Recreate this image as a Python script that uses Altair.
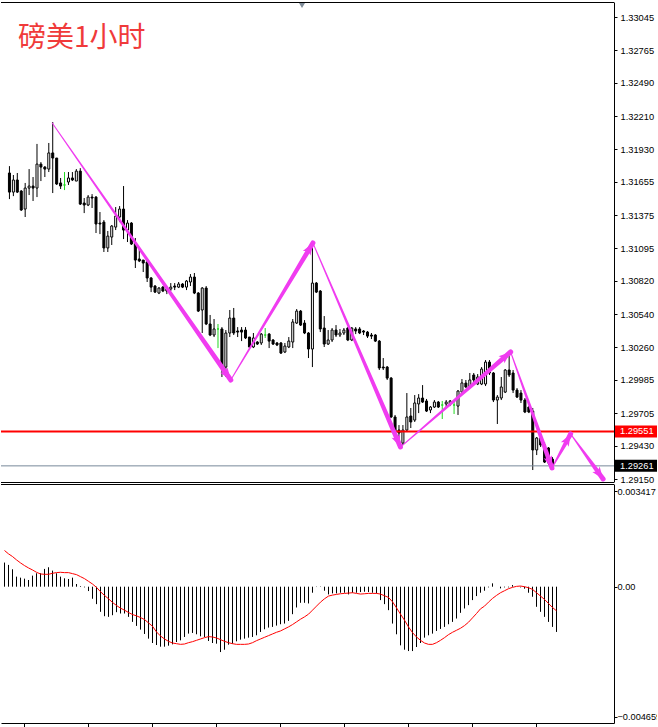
import math
import altair as alt
import pandas as pd

# ---------------- data ----------------
opens = [1.31730, 1.31569, 1.31671, 1.31578, 1.31426, 1.31603, 1.31620, 1.31603, 1.31805, 1.31780,
         1.31763, 1.31899, 1.31856, 1.31646, 1.31629, 1.31654, 1.31688, 1.31662, 1.31746, 1.31477,
         1.31460, 1.31527, 1.31527, 1.31308, 1.31316, 1.31098, 1.31190, 1.31274, 1.31359, 1.31426,
         1.31249, 1.31308, 1.31140, 1.31005, 1.30996, 1.30979, 1.30845, 1.30777, 1.30718, 1.30768,
         1.30752, 1.30752, 1.30777, 1.30768, 1.30794, 1.30768, 1.30811, 1.30853, 1.30718, 1.30575,
         1.30760, 1.30457, 1.30364, 1.30415, 1.30415, 1.30094, 1.30381, 1.30507, 1.30398, 1.30406,
         1.30406, 1.30347, 1.30263, 1.30305, 1.30297, 1.30364, 1.30372, 1.30322, 1.30297, 1.30297,
         1.30221, 1.30263, 1.30305, 1.30465, 1.30566, 1.30465, 1.30381, 1.30246, 1.30802, 1.30735,
         1.30423, 1.30288, 1.30322, 1.30406, 1.30364, 1.30381, 1.30423, 1.30322, 1.30415, 1.30415,
         1.30398, 1.30389, 1.30364, 1.30364, 1.30313, 1.30094, 1.30094, 1.30001, 1.29673, 1.29563,
         1.29453, 1.29563, 1.29681, 1.29647, 1.29783, 1.29833, 1.29808, 1.29732, 1.29757, 1.29799,
         1.29774, 1.29783, 1.29783, 1.29774, 1.29765, 1.29883, 1.29959, 1.29926, 1.30027, 1.29951,
         1.29951, 1.29951, 1.30136, 1.30044, 1.29816, 1.29833, 1.29883, 1.30069, 1.30044, 1.29900,
         1.29875, 1.29816, 1.29757, 1.29723, 1.29395, 1.29496, 1.29437, 1.29412, 1.29318]
highs = [1.31788, 1.31713, 1.31730, 1.31586, 1.31646, 1.31763, 1.31696, 1.31975, 1.31822, 1.31788,
         1.31983, 1.32160, 1.31856, 1.31688, 1.31738, 1.31738, 1.31738, 1.31763, 1.31771, 1.31519,
         1.31544, 1.31552, 1.31535, 1.31401, 1.31333, 1.31241, 1.31291, 1.31443, 1.31451, 1.31620,
         1.31333, 1.31316, 1.31182, 1.31098, 1.30996, 1.31005, 1.30853, 1.30785, 1.30768, 1.30777,
         1.30760, 1.30802, 1.30802, 1.30811, 1.30802, 1.30828, 1.30878, 1.30887, 1.30726, 1.30768,
         1.30777, 1.30533, 1.30499, 1.30457, 1.30431, 1.30406, 1.30575, 1.30592, 1.30431, 1.30431,
         1.30431, 1.30347, 1.30381, 1.30313, 1.30381, 1.30423, 1.30381, 1.30330, 1.30305, 1.30305,
         1.30297, 1.30347, 1.30499, 1.30583, 1.30575, 1.30490, 1.30389, 1.31140, 1.30811, 1.30743,
         1.30524, 1.30406, 1.30423, 1.30448, 1.30415, 1.30423, 1.30431, 1.30431, 1.30431, 1.30431,
         1.30406, 1.30398, 1.30381, 1.30372, 1.30322, 1.30170, 1.30103, 1.30010, 1.29690, 1.29605,
         1.29605, 1.29875, 1.29749, 1.29858, 1.29866, 1.29942, 1.29825, 1.29765, 1.29816, 1.29808,
         1.29808, 1.29816, 1.29816, 1.29816, 1.29900, 1.29993, 1.29985, 1.30044, 1.30044, 1.30035,
         1.30094, 1.30153, 1.30153, 1.30052, 1.29858, 1.30010, 1.30077, 1.30212, 1.30069, 1.29917,
         1.29900, 1.29833, 1.29765, 1.29749, 1.29504, 1.29504, 1.29462, 1.29420, 1.29335]
lows = [1.31510, 1.31535, 1.31561, 1.31410, 1.31359, 1.31544, 1.31494, 1.31527, 1.31662, 1.31696,
        1.31738, 1.31561, 1.31629, 1.31595, 1.31586, 1.31629, 1.31662, 1.31662, 1.31460, 1.31392,
        1.31451, 1.31435, 1.31224, 1.31215, 1.31064, 1.31064, 1.31123, 1.31249, 1.31316, 1.31173,
        1.31148, 1.31123, 1.30929, 1.30979, 1.30895, 1.30811, 1.30726, 1.30718, 1.30709, 1.30726,
        1.30709, 1.30735, 1.30743, 1.30760, 1.30760, 1.30743, 1.30777, 1.30709, 1.30558, 1.30381,
        1.30448, 1.30355, 1.30347, 1.30254, 1.30010, 1.30010, 1.30347, 1.30364, 1.30347, 1.30313,
        1.30330, 1.30254, 1.30254, 1.30280, 1.30280, 1.30339, 1.30254, 1.30280, 1.30271, 1.30204,
        1.30212, 1.30254, 1.30254, 1.30457, 1.30440, 1.30372, 1.30170, 1.30094, 1.30718, 1.30389,
        1.30263, 1.30280, 1.30305, 1.30347, 1.30347, 1.30364, 1.30313, 1.30313, 1.30372, 1.30372,
        1.30364, 1.30339, 1.30330, 1.30305, 1.30069, 1.30069, 1.29985, 1.29664, 1.29479, 1.29420,
        1.29437, 1.29546, 1.29580, 1.29631, 1.29706, 1.29791, 1.29715, 1.29706, 1.29749, 1.29749,
        1.29656, 1.29757, 1.29765, 1.29698, 1.29690, 1.29875, 1.29917, 1.29917, 1.29951, 1.29942,
        1.29942, 1.29934, 1.30027, 1.29799, 1.29614, 1.29816, 1.29875, 1.30010, 1.29875, 1.29833,
        1.29791, 1.29706, 1.29706, 1.29226, 1.29352, 1.29420, 1.29285, 1.29268, 1.29251]
closes = [1.31569, 1.31671, 1.31569, 1.31418, 1.31603, 1.31620, 1.31603, 1.31805, 1.31780, 1.31763,
          1.31899, 1.31856, 1.31637, 1.31620, 1.31629, 1.31688, 1.31671, 1.31746, 1.31468, 1.31460,
          1.31527, 1.31519, 1.31300, 1.31300, 1.31098, 1.31198, 1.31283, 1.31367, 1.31426, 1.31249,
          1.31308, 1.31131, 1.30996, 1.30988, 1.30971, 1.30845, 1.30768, 1.30726, 1.30760, 1.30735,
          1.30735, 1.30768, 1.30768, 1.30794, 1.30768, 1.30819, 1.30853, 1.30718, 1.30566, 1.30760,
          1.30457, 1.30364, 1.30415, 1.30415, 1.30094, 1.30381, 1.30507, 1.30381, 1.30389, 1.30389,
          1.30339, 1.30263, 1.30339, 1.30288, 1.30372, 1.30364, 1.30313, 1.30288, 1.30280, 1.30212,
          1.30271, 1.30313, 1.30474, 1.30566, 1.30448, 1.30381, 1.30246, 1.30802, 1.30726, 1.30415,
          1.30288, 1.30322, 1.30406, 1.30364, 1.30381, 1.30406, 1.30322, 1.30423, 1.30398, 1.30381,
          1.30389, 1.30355, 1.30355, 1.30313, 1.30086, 1.30086, 1.30001, 1.29673, 1.29546, 1.29538,
          1.29563, 1.29673, 1.29631, 1.29791, 1.29833, 1.29799, 1.29723, 1.29757, 1.29799, 1.29757,
          1.29774, 1.29799, 1.29808, 1.29774, 1.29892, 1.29960, 1.29926, 1.29985, 1.29985, 1.30010,
          1.30077, 1.30136, 1.30044, 1.29816, 1.29841, 1.29926, 1.30069, 1.30027, 1.29900, 1.29841,
          1.29816, 1.29715, 1.29715, 1.29395, 1.29496, 1.29437, 1.29293, 1.29285, 1.29261]

macd_hist = [0.000864, 0.000780, 0.000624, 0.000360, 0.000324, 0.000288, 0.000240, 0.000396, 0.000480, 0.000480,
             0.000636, 0.000696, 0.000576, 0.000480, 0.000360, 0.000300, 0.000276, 0.000324, 0.000096, 0.000024,
             -0.000024, -0.000156, -0.000432, -0.000624, -0.000900, -0.001056, -0.001080, -0.001020, -0.000912, -0.000960,
             -0.000960, -0.001080, -0.001260, -0.001404, -0.001536, -0.001692, -0.001860, -0.002016, -0.002088, -0.002148,
             -0.002148, -0.002112, -0.002064, -0.001980, -0.001920, -0.001800, -0.001680, -0.001656, -0.001704, -0.001776,
             -0.001800, -0.001944, -0.002016, -0.002040, -0.002340, -0.002256, -0.002076, -0.002040, -0.001956, -0.001896,
             -0.001860, -0.001824, -0.001800, -0.001740, -0.001620, -0.001524, -0.001464, -0.001440, -0.001392, -0.001344,
             -0.001320, -0.001224, -0.000984, -0.000744, -0.000576, -0.000576, -0.000600, -0.000216, -0.000012, 0.000012,
             -0.000144, -0.000276, -0.000240, -0.000240, -0.000216, -0.000216, -0.000276, -0.000216, -0.000216, -0.000192,
             -0.000180, -0.000192, -0.000216, -0.000240, -0.000480, -0.000624, -0.000840, -0.001320, -0.001704, -0.002100,
             -0.002256, -0.002304, -0.002304, -0.002160, -0.002016, -0.001824, -0.001740, -0.001680, -0.001584, -0.001512,
             -0.001440, -0.001344, -0.001260, -0.001140, -0.000936, -0.000780, -0.000660, -0.000480, -0.000336, -0.000216,
             -0.000144, -0.000024, 0.000120, 0.0, -0.000060, -0.000024, -0.000024, 0.000060, 0.0, -0.000024,
             -0.000072, -0.000216, -0.000360, -0.000720, -0.000900, -0.001080, -0.001260, -0.001440, -0.001620]
macd_signal = [0.001296, 0.001176, 0.001080, 0.000960, 0.000852, 0.000756, 0.000672, 0.000600, 0.000516, 0.000456,
               0.000444, 0.000444, 0.000480, 0.000504, 0.000516, 0.000504, 0.000504, 0.000468, 0.000432, 0.000360,
               0.000288, 0.000192, 0.000096, -0.000024, -0.000180, -0.000312, -0.000432, -0.000564, -0.000672, -0.000768,
               -0.000840, -0.000924, -0.000996, -0.001044, -0.001104, -0.001176, -0.001296, -0.001416, -0.001620, -0.001764,
               -0.001872, -0.001956, -0.002016, -0.002040, -0.002064, -0.002052, -0.002004, -0.001968, -0.001920, -0.001872,
               -0.001824, -0.001788, -0.001800, -0.001836, -0.001896, -0.001956, -0.002004, -0.002040, -0.002064, -0.002064,
               -0.002064, -0.002052, -0.002004, -0.001932, -0.001872, -0.001812, -0.001752, -0.001692, -0.001632, -0.001584,
               -0.001512, -0.001440, -0.001356, -0.001260, -0.001164, -0.001080, -0.000984, -0.000840, -0.000696, -0.000552,
               -0.000432, -0.000336, -0.000300, -0.000276, -0.000252, -0.000240, -0.000228, -0.000216, -0.000240, -0.000264,
               -0.000252, -0.000240, -0.000240, -0.000240, -0.000264, -0.000324, -0.000384, -0.000540, -0.000756, -0.000984,
               -0.001200, -0.001440, -0.001644, -0.001800, -0.001920, -0.002016, -0.002064, -0.002064, -0.002004, -0.001920,
               -0.001824, -0.001716, -0.001632, -0.001560, -0.001488, -0.001392, -0.001272, -0.001116, -0.000960, -0.000792,
               -0.000696, -0.000552, -0.000420, -0.000312, -0.000216, -0.000144, -0.000072, -0.000024, 0.000012, 0.000024,
               0.0, -0.000036, -0.000096, -0.000216, -0.000336, -0.000456, -0.000600, -0.000744, -0.000864]

# zig-zag arrows (bar index, price)
zig_i = [10.875, 56.25, 77.125, 99.375, 127.375, 137.875, 142.625, 150.875]
zig_p = [1.32151, 1.29985, 1.31140, 1.29420, 1.30221, 1.29243, 1.29530, 1.29151]

price_ticks = [1.33045, 1.32765, 1.32490, 1.32210, 1.31930, 1.31655, 1.31375, 1.31095,
               1.30820, 1.30540, 1.30260, 1.29985, 1.29705, 1.29430, 1.29150]
macd_ticks = [0.003417, 0.0, -0.004659]
time_ticks = [4.875, 20.875, 36.875, 52.875, 68.875, 84.875, 100.875, 116.875, 132.875]

level_price = 1.29551
bid_price = 1.29261
title_text = "磅美1小时"

# ---------------- layout / styles ----------------
W = 613
H_MAIN = 480
H_MACD = 239
X_DOM = [-0.875, 152.375]
P_DOM = [1.29125, 1.331715]
M_DOM = [-0.00488, 0.003677]
MAGENTA = "#f03cf0"
GREEN = "#22d822"
FONT = "Liberation Sans"
FS = 9.3

xs = alt.Scale(domain=X_DOM, nice=False, zero=False)
ys = alt.Scale(domain=P_DOM, nice=False, zero=False)
ms = alt.Scale(domain=M_DOM, nice=False, zero=False)

main_axis = alt.Axis(orient="right", values=price_ticks, format=".5f", title=None,
                     grid=False, tickSize=3, labelPadding=3, domain=True,
                     domainColor="black", tickColor="black", labelColor="black",
                     labelFont=FONT, labelFontSize=FS, labelOverlap=False, labelLimit=40)
macd_axis = alt.Axis(orient="right", values=macd_ticks, title=None, grid=False,
                     tickSize=3, labelPadding=0, domain=True, domainColor="black",
                     tickColor="black", labelColor="black", labelFont=FONT,
                     labelFontSize=9.2, labelOverlap=False, labelLimit=80,
                     labelExpr="datum.value == 0 ? '0.00' : format(datum.value, '.6f')")
time_axis = alt.Axis(values=time_ticks, labels=False, title=None, grid=False,
                     tickSize=4, domain=True, domainColor="black", tickColor="black")

n = len(opens)
kind = []
for o, c in zip(opens, closes):
    kind.append("doji" if abs(o - c) < 1e-9 else ("up" if c > o else "down"))
candles = pd.DataFrame({
    "i": list(range(n)), "o": opens, "h": highs, "l": lows, "c": closes, "kind": kind,
})
candles["lo"] = candles[["o", "c"]].min(axis=1)
candles["hi"] = candles[["o", "c"]].max(axis=1)
candles["fill"] = candles["kind"].map({"up": "white", "down": "black", "doji": GREEN})
candles["stroke"] = candles["kind"].map({"up": "black", "down": "black", "doji": GREEN})

X = alt.X("i:Q", scale=xs, axis=None)

wicks = alt.Chart(candles).mark_rule(strokeWidth=1).encode(
    x=X, y=alt.Y("l:Q", scale=ys, axis=main_axis), y2="h:Q",
    color=alt.Color("stroke:N", scale=None, legend=None))
bodies = alt.Chart(candles).mark_bar(size=2, strokeWidth=1).encode(
    x=X, y=alt.Y("lo:Q", scale=ys, axis=main_axis), y2="hi:Q",
    fill=alt.Fill("fill:N", scale=None, legend=None),
    stroke=alt.Stroke("stroke:N", scale=None, legend=None))

levels = pd.DataFrame({"p": [level_price, bid_price], "col": ["#ff0000", "#778899"],
                       "w": [2, 1], "lab": [f"{level_price:.5f}", f"{bid_price:.5f}"],
                       "bg": ["#ff0000", "#000000"]})
level_rules = alt.Chart(levels).mark_rule().encode(
    y=alt.Y("p:Q", scale=ys, axis=main_axis),
    color=alt.Color("col:N", scale=None, legend=None),
    strokeWidth=alt.StrokeWidth("w:Q", scale=None, legend=None))
level_boxes = alt.Chart(levels).mark_rect(yOffset=-6, y2Offset=6).encode(
    x=alt.value(W + 1), x2=alt.value(W + 45),
    y=alt.Y("p:Q", scale=ys, axis=main_axis), y2="p:Q",
    fill=alt.Fill("bg:N", scale=None, legend=None))
level_text = alt.Chart(levels).mark_text(align="left", baseline="middle", font=FONT,
                                         fontSize=FS, color="white").encode(
    x=alt.value(W + 6), y=alt.Y("p:Q", scale=ys, axis=main_axis), text="lab:N")

# tapered arrows
PX_I = W / (X_DOM[1] - X_DOM[0])
PX_P = H_MAIN / (P_DOM[1] - P_DOM[0])
trail_rows, head_rows = [], []
for k in range(len(zig_i) - 1):
    i0, p0, i1, p1 = zig_i[k], zig_p[k], zig_i[k + 1], zig_p[k + 1]
    trail_rows.append({"leg": k, "i": i0, "p": p0, "w": 1.0})
    trail_rows.append({"leg": k, "i": i1, "p": p1, "w": 5.0})
    sx = (i1 - i0) * PX_I
    sy = (p0 - p1) * PX_P
    ang = math.degrees(math.atan2(sx, -sy)) % 360
    head_rows.append({"i": i1, "p": p1, "ang": ang})
trail_df = pd.DataFrame(trail_rows)
head_df = pd.DataFrame(head_rows)

trails = alt.Chart(trail_df).mark_trail(color=MAGENTA).encode(
    x=X, y=alt.Y("p:Q", scale=ys, axis=main_axis),
    size=alt.Size("w:Q", scale=None, legend=None), detail="leg:N")
heads = alt.Chart(head_df).mark_point(
    shape="M0,0L0.75,2L0,1.55L-0.75,2Z", filled=True, color=MAGENTA, opacity=1,
    size=144, strokeWidth=0).encode(
    x=X, y=alt.Y("p:Q", scale=ys, axis=main_axis),
    angle=alt.Angle("ang:Q", scale=None, legend=None))

title_df = pd.DataFrame({"t": [title_text]})
title = alt.Chart(title_df).mark_text(align="left", baseline="alphabetic",
                                      font="Noto Sans CJK SC", fontSize=28,
                                      color="#f03a3a").encode(
    x=alt.value(17), y=alt.value(45), text="t:N")
marker = alt.Chart(title_df).mark_point(shape="triangle-down", filled=True,
                                        color="#7f8c99", size=36, opacity=1).encode(
    x=alt.value(301), y=alt.value(3.5))

border_df = pd.DataFrame({"y": [0.5, H_MAIN + 0.5]})
main_border = alt.Chart(border_df).mark_rule(color="black", strokeWidth=1).encode(
    x=alt.value(0), x2=alt.value(W), y=alt.Y("y:Q", scale=None))

main = alt.layer(wicks, bodies, level_rules, trails, heads, level_boxes, level_text,
                 title, marker, main_border).properties(width=W, height=H_MAIN)

# MACD panel
macd_df = pd.DataFrame({"i": list(range(n)), "h": macd_hist, "s": macd_signal,
                        "z": [0.0] * n})
XT = alt.X("i:Q", scale=xs, axis=time_axis)
hist = alt.Chart(macd_df).mark_rule(color="black", strokeWidth=1).encode(
    x=XT, y=alt.Y("z:Q", scale=ms, axis=macd_axis), y2="h:Q")
sig = alt.Chart(macd_df).mark_line(color="#ff0000", strokeWidth=1).encode(
    x=XT, y=alt.Y("s:Q", scale=ms, axis=macd_axis))
macd_border = alt.Chart(pd.DataFrame({"y": [0.5]})).mark_rule(
    color="black", strokeWidth=1).encode(
    x=alt.value(0), x2=alt.value(W), y=alt.Y("y:Q", scale=None))
macd = alt.layer(hist, sig, macd_border).properties(width=W, height=H_MACD)

chart = alt.vconcat(main, macd, spacing=2, bounds="flush").properties(
    padding={"left": 0, "top": 2, "right": -4, "bottom": 0},
    background="white",
).configure_view(stroke=None)

chart.save("out.html", embed_options={"renderer": "svg", "actions": False})
